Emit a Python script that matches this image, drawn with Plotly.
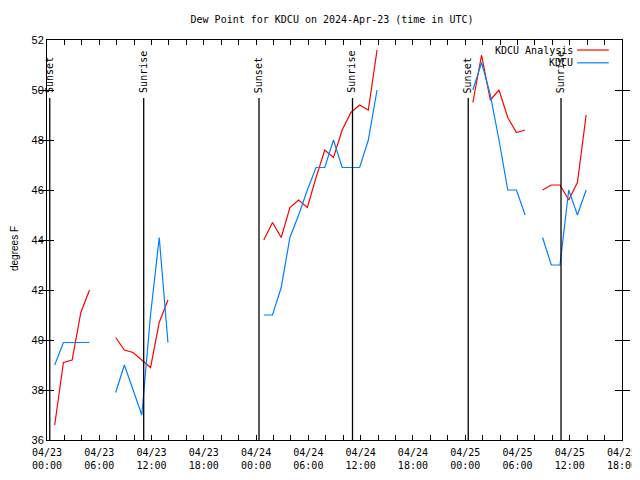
import plotly.graph_objects as go

# ---- data ----
times = [
    "2024-04-23 00:53", "2024-04-23 01:53", "2024-04-23 02:53", "2024-04-23 03:53", "2024-04-23 04:53",
    "2024-04-23 05:53",
    "2024-04-23 07:53", "2024-04-23 08:53", "2024-04-23 09:53", "2024-04-23 10:53", "2024-04-23 11:53",
    "2024-04-23 12:53", "2024-04-23 13:53",
    "2024-04-23 14:53",
    "2024-04-24 00:53", "2024-04-24 01:53", "2024-04-24 02:53", "2024-04-24 03:53", "2024-04-24 04:53",
    "2024-04-24 05:53", "2024-04-24 06:53", "2024-04-24 07:53", "2024-04-24 08:53", "2024-04-24 09:53",
    "2024-04-24 10:53", "2024-04-24 11:53", "2024-04-24 12:53", "2024-04-24 13:53",
    "2024-04-24 14:53",
    "2024-04-25 00:53", "2024-04-25 01:53", "2024-04-25 02:53", "2024-04-25 03:53", "2024-04-25 04:53",
    "2024-04-25 05:53", "2024-04-25 06:53",
    "2024-04-25 07:53",
    "2024-04-25 08:53", "2024-04-25 09:53", "2024-04-25 10:53", "2024-04-25 11:53", "2024-04-25 12:53",
    "2024-04-25 13:53",
]

analysis = [
    36.6, 39.1, 39.2, 41.1, 42.0,
    None,
    40.1, 39.6, 39.5, 39.2, 38.9, 40.7, 41.6,
    None,
    44.0, 44.7, 44.1, 45.3, 45.6, 45.3, 46.5, 47.6, 47.3, 48.4, 49.1, 49.4, 49.2, 51.6,
    None,
    49.5, 51.4, 49.6, 50.0, 48.9, 48.3, 48.4,
    None,
    46.0, 46.2, 46.2, 45.6, 46.3, 49.0,
]

observed = [
    39.0, 39.9, 39.9, 39.9, 39.9,
    None,
    37.9, 39.0, 38.0, 37.0, 41.0, 44.1, 39.9,
    None,
    41.0, 41.0, 42.1, 44.1, 45.0, 46.0, 46.9, 46.9, 48.0, 46.9, 46.9, 46.9, 48.0, 50.0,
    None,
    50.0, 51.1, 49.8, 48.0, 46.0, 46.0, 45.0,
    None,
    44.1, 43.0, 43.0, 46.0, 45.0, 46.0,
]

sun_times = ["2024-04-23 00:19", "2024-04-23 11:06", "2024-04-24 00:20",
             "2024-04-24 11:04", "2024-04-25 00:21", "2024-04-25 11:00"]
sun_labels = ["Sunset", "Sunrise", "Sunset", "Sunrise", "Sunset", "Sunrise"]

series_names = ["KDCU Analysis", "KDCU"]
series_colors = ["#ff0000", "#0080ff"]

y_ticks = [36, 38, 40, 42, 44, 46, 48, 50, 52]
x_range = ["2024-04-23 00:00", "2024-04-25 18:00"]

MONO = "DejaVu Sans Mono"
SANS = "Liberation Sans"

fig = go.Figure()
for name, vals, col in zip(series_names, [analysis, observed], series_colors):
    fig.add_trace(go.Scatter(x=times, y=vals, mode="lines", name=name,
                             line=dict(color=col, width=1.2), connectgaps=False,
                             showlegend=False))
# invisible helper trace so the top (mirror) axis with minor ticks is drawn
fig.add_trace(go.Scatter(x=times, y=observed, xaxis="x2", mode="lines",
                         line=dict(width=0), opacity=0, hoverinfo="skip", showlegend=False))

shapes = []
annotations = []
for t, lab in zip(sun_times, sun_labels):
    shapes.append(dict(type="line", xref="x", yref="paper", x0=t, x1=t, y0=0, y1=0.855,
                       line=dict(color="black", width=1.3)))
    annotations.append(dict(x=t, y=0.862, xref="x", yref="paper", text=lab, textangle=-90,
                            showarrow=False, xanchor="center", yanchor="bottom", xshift=-1,
                            font=dict(family=MONO, size=10, color="black")))

# custom legend (text right-aligned, line sample to the right)
legend_rows = [0.975, 0.943]
for name, col, yy in zip(series_names, series_colors, legend_rows):
    annotations.append(dict(x=0.918, y=yy, xref="paper", yref="paper", text=name,
                            showarrow=False, xanchor="right", yanchor="middle",
                            font=dict(family=MONO, size=10, color="black")))
    shapes.append(dict(type="line", xref="paper", yref="paper", x0=0.922, x1=0.977,
                       y0=yy, y1=yy, line=dict(color=col, width=1.2)))

annotations.append(dict(x=0, y=0.4775, xref="paper", yref="paper", xshift=-33,
                        text="degrees F", textangle=-90, showarrow=False,
                        xanchor="center", yanchor="middle",
                        font=dict(family=SANS, size=10, color="black")))

# page body has an 8px margin, so the figure is sized/placed to compensate
fig.update_layout(
    width=632, height=472,
    margin=dict(l=39, r=18, t=32, b=40, autoexpand=False),
    paper_bgcolor="white", plot_bgcolor="white",
    title=dict(text="Dew Point for KDCU on 2024-Apr-23 (time in UTC)",
               x=0.5127, y=0.9746, xanchor="center", yanchor="middle", automargin=False,
               font=dict(family=MONO, size=10, color="black")),
    shapes=shapes, annotations=annotations,
    showlegend=False,
    xaxis=dict(
        type="date", range=x_range, automargin=False,
        tick0="2024-04-23 00:00", dtick=6 * 3600 * 1000, tickformat="%m/%d<br>%H:%M",
        ticks="inside", ticklen=5, tickcolor="black", tickwidth=1, ticklabelstandoff=3,
        showline=True, linecolor="black", linewidth=1, mirror=True,
        showgrid=False, zeroline=False,
        minor=dict(dtick=2 * 3600 * 1000, ticks="inside", ticklen=5, tickcolor="black",
                   showgrid=False),
        tickfont=dict(family=MONO, size=10, color="black"),
    ),
    xaxis2=dict(
        type="date", range=x_range, overlaying="x", side="top", automargin=False,
        tick0="2024-04-23 00:00", dtick=6 * 3600 * 1000, showticklabels=False,
        ticks="inside", ticklen=5, tickcolor="black", tickwidth=1,
        showline=False, showgrid=False, zeroline=False,
        minor=dict(dtick=2 * 3600 * 1000, ticks="inside", ticklen=5, tickcolor="black",
                   showgrid=False),
    ),
    yaxis=dict(
        range=[36, 52], tickvals=y_ticks, ticktext=[str(v) for v in y_ticks], automargin=False,
        ticks="inside", ticklen=7, tickcolor="black", tickwidth=1,
        showline=True, linecolor="black", linewidth=1, mirror="allticks",
        showgrid=False, zeroline=False,
        tickfont=dict(family=SANS, size=11, color="black"),
    ),
)

fig.write_html("out.html")
